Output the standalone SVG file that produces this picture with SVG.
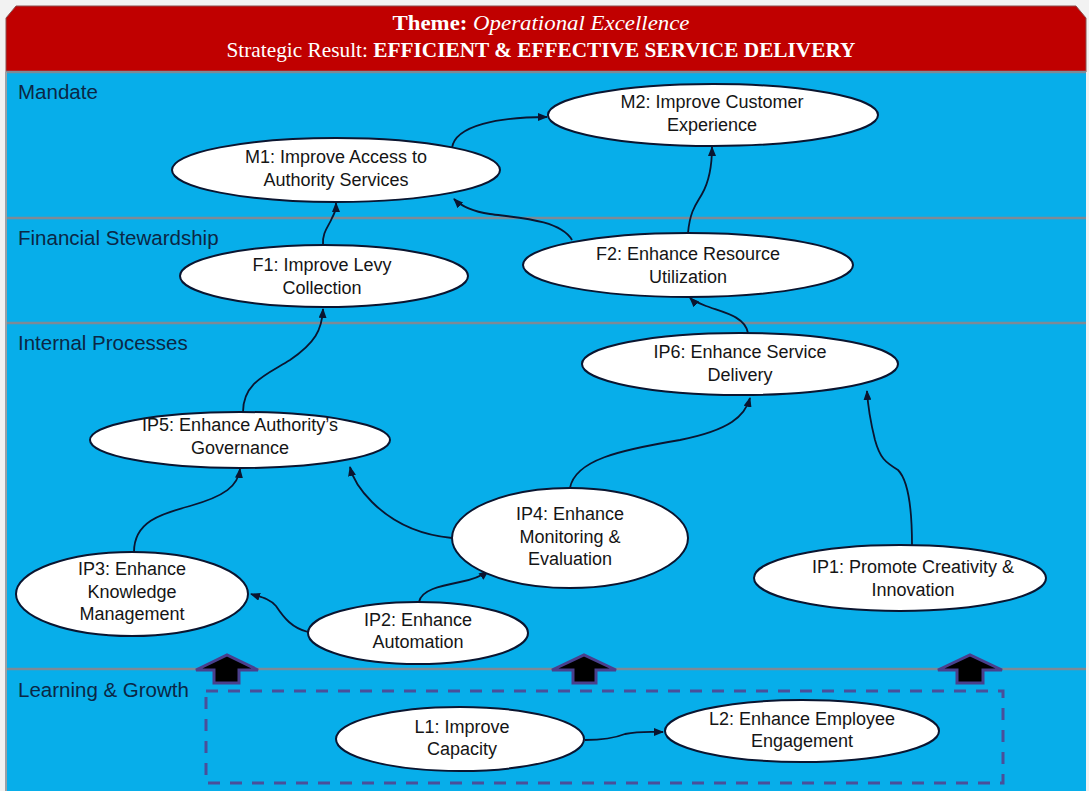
<svg xmlns="http://www.w3.org/2000/svg" width="1089" height="791" viewBox="0 0 1089 791">
<defs>
<marker id="ah" markerWidth="10" markerHeight="8" refX="9" refY="4" orient="auto" markerUnits="userSpaceOnUse">
<path d="M0,0 L10,4 L0,8 Z" fill="#0a1530"/>
</marker>
<style>
.lane{fill:#0b2745;font-family:"Liberation Sans",Arial,sans-serif;font-size:20.5px}
.node ellipse{fill:#ffffff;stroke:#0a1530;stroke-width:2}
.node text{fill:#151515;font-family:"Liberation Sans",Arial,sans-serif;font-size:18px;text-anchor:middle}
.conn path{fill:none;stroke:#0a1530;stroke-width:1.8;marker-end:url(#ah)}
.sep{stroke:#7d8a96;stroke-width:2.5}
.blk{fill:#000000;stroke:#4a3f8c;stroke-width:3;stroke-linejoin:miter}
.hdr{fill:#ffffff;font-family:"Liberation Serif","Times New Roman",serif;font-size:21px;text-anchor:middle}
</style>
</defs>
<rect x="0" y="0" width="1089" height="791" fill="#f2f2f2"/>
<rect x="6" y="72" width="1080" height="719" fill="#07aeea"/>
<path d="M6,72 L6,18 L16,6 L1076,6 L1086,18 L1086,72 Z" fill="#c00000" stroke="#8a5050" stroke-width="1"/>
<line x1="6" y1="72" x2="1086" y2="72" class="sep"/>
<line x1="6" y1="218" x2="1086" y2="218" class="sep"/>
<line x1="6" y1="323" x2="1086" y2="323" class="sep"/>
<line x1="6" y1="669" x2="1086" y2="669" class="sep"/>
<line x1="6" y1="72" x2="6" y2="791" stroke="#9aa0a6" stroke-width="2"/>
<text class="hdr" x="541" y="30" textLength="297" lengthAdjust="spacingAndGlyphs"><tspan font-weight="bold">Theme: </tspan><tspan font-style="italic">Operational Excellence</tspan></text>
<text class="hdr" x="541" y="57" textLength="629" lengthAdjust="spacingAndGlyphs">Strategic Result: <tspan font-weight="bold">EFFICIENT &amp; EFFECTIVE  SERVICE DELIVERY</tspan></text>
<text class="lane" x="18" y="99">Mandate</text>
<text class="lane" x="18" y="245">Financial Stewardship</text>
<text class="lane" x="18" y="350">Internal Processes</text>
<text class="lane" x="18" y="697">Learning &amp; Growth</text>
<rect x="206" y="691" width="797" height="92" fill="none" stroke="#4a4f9a" stroke-width="3" stroke-dasharray="12,10"/>
<g id="block-arrows">
<path class="blk" d="M196,670 L227,655 L258,670 L239,670 L239,683 L214,683 L214,670 Z"/>
<path class="blk" d="M552,670 L584,655 L616,670 L596,670 L596,683 L573,683 L573,670 Z"/>
<path class="blk" d="M938,670 L970,655 L1002,670 L983,670 L983,683 L957,683 L957,670 Z"/>
</g>
<g id="connectors" class="conn">
<path d="M452,148 C455,125 500,117 547,117"/>
<path d="M688,233 C690,210 697,203 702,194 C710,180 712,165 712,147"/>
<path d="M572,240 C560,220 520,218 490,214 C470,211 460,205 454,199"/>
<path d="M323,245 C322,232 329,226 332,218 C335,212 336,210 336,203"/>
<path d="M243,412 C243,382 268,374 290,360 C315,343 322,330 323,309"/>
<path d="M748,333 C745,316 722,312 706,306 C696,302 692,300 690,298"/>
<path d="M570,488 C575,460 620,450 680,440 C730,430 745,416 750,398"/>
<path d="M912,545 C912,505 908,480 898,470 C885,462 880,458 875,440 C870,420 868,408 867,391"/>
<path d="M452,538 C420,535 392,522 372,502 C360,490 353,480 350,467"/>
<path d="M134,552 C134,522 160,514 190,506 C225,496 238,486 240,469"/>
<path d="M419,602 C421,590 440,586 460,582 C476,579 483,575 488,571"/>
<path d="M308,632 C292,628 284,618 276,606 C269,598 260,597 251,594"/>
<path d="M585,740 C605,740 615,738 625,734 C640,731 650,732 663,732"/>
</g>
<g id="M2" class="node"><ellipse cx="713" cy="115" rx="165" ry="31"/><text x="712" y="108">M2: Improve Customer</text><text x="712" y="131">Experience</text></g>
<g id="M1" class="node"><ellipse cx="336" cy="170" rx="164" ry="32"/><text x="336" y="163">M1: Improve Access to</text><text x="336" y="186">Authority Services</text></g>
<g id="F1" class="node"><ellipse cx="324" cy="276" rx="144" ry="31"/><text x="322" y="271">F1: Improve Levy</text><text x="322" y="294">Collection</text></g>
<g id="F2" class="node"><ellipse cx="688" cy="265" rx="165" ry="32"/><text x="688" y="260">F2: Enhance Resource</text><text x="688" y="283">Utilization</text></g>
<g id="IP6" class="node"><ellipse cx="740" cy="364" rx="158" ry="31"/><text x="740" y="358">IP6: Enhance Service</text><text x="740" y="381">Delivery</text></g>
<g id="IP5" class="node"><ellipse cx="240" cy="440" rx="150" ry="28"/><text x="240" y="431">IP5: Enhance Authority’s</text><text x="240" y="454">Governance</text></g>
<g id="IP4" class="node"><ellipse cx="570" cy="538" rx="118" ry="50"/><text x="570" y="520">IP4: Enhance</text><text x="570" y="543">Monitoring &amp;</text><text x="570" y="565">Evaluation</text></g>
<g id="IP3" class="node"><ellipse cx="132" cy="594" rx="116" ry="42"/><text x="132" y="575">IP3: Enhance</text><text x="132" y="598">Knowledge</text><text x="132" y="620">Management</text></g>
<g id="IP2" class="node"><ellipse cx="418" cy="633" rx="110" ry="31"/><text x="418" y="626">IP2: Enhance</text><text x="418" y="648">Automation</text></g>
<g id="IP1" class="node"><ellipse cx="900" cy="578" rx="146" ry="33"/><text x="913" y="573">IP1: Promote Creativity &amp;</text><text x="913" y="596">Innovation</text></g>
<g id="L1" class="node"><ellipse cx="460" cy="739" rx="124" ry="32"/><text x="462" y="733">L1: Improve</text><text x="462" y="755">Capacity</text></g>
<g id="L2" class="node"><ellipse cx="802" cy="731" rx="137" ry="31"/><text x="802" y="725">L2: Enhance Employee</text><text x="802" y="747">Engagement</text></g>
</svg>
